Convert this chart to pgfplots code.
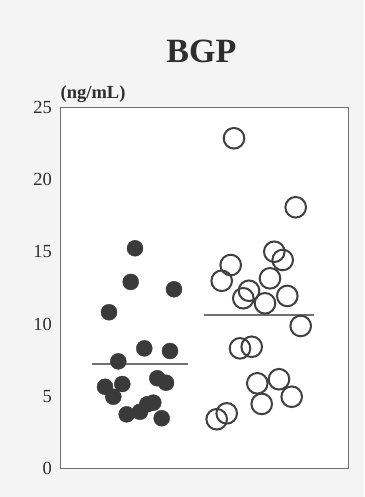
\documentclass[border=0pt]{standalone}
\usepackage{fontspec}
\setmainfont{Liberation Serif}
\usepackage{pgfplots}
\pgfplotsset{compat=1.18}
\definecolor{dotfill}{HTML}{3A3A3A}
\definecolor{ringcol}{HTML}{404040}
\definecolor{axcol}{HTML}{707070}
\definecolor{txtcol}{HTML}{2E2E2E}
\definecolor{bgcol}{HTML}{F4F4F4}
\begin{document}
\begin{tikzpicture}
\path[use as bounding box, fill=bgcol] (-60.5pt,-28.5pt) rectangle (303.5pt,468.5pt);
\begin{axis}[
  scale only axis,
  width=287.5pt, height=361pt,
  xmin=60.5, xmax=348, ymin=0, ymax=25,
  xtick=\empty,
  ytick={0,5,10,15,20,25},
  major tick length=0pt,
  axis line style={axcol, line width=1pt},
  axis background/.style={fill=white},
  /pgf/number format/assume math mode=true,
  yticklabel style={font=\fontsize{18.5}{18.5}\selectfont, text=txtcol, xshift=-5pt},
  clip=false,
]
\addplot[only marks, mark=*, mark size=8pt, mark options={fill=dotfill, draw=dotfill, line width=0.4pt}]
coordinates {
(135,15.25) (130.7,12.92) (174,12.41) (109,10.82) (144.3,8.32) (170,8.14)
(118.3,7.42) (105,5.66) (122.3,5.85) (113.3,4.97) (157.3,6.25) (166,5.94)
(126.7,3.75) (140,3.93) (147.3,4.45) (153.3,4.56) (161.7,3.48)
};
\addplot[only marks, mark=o, mark size=10.3pt, mark options={draw=ringcol, line width=2pt}]
coordinates {
(234,22.87) (295.7,18.09) (274.3,15.01) (282.7,14.44) (230.7,14.09) (221.7,13.0)
(270,13.17) (249,12.31) (243.3,11.79) (287.3,11.95) (265,11.44) (300.7,9.87)
(240,8.32) (251.7,8.43) (257.3,5.9) (279,6.18) (261.7,4.47) (291.7,4.97)
(216.7,3.41) (226.7,3.82)
};
\addplot[axcol, line width=1.2pt] coordinates {(92,7.24) (188,7.24)};
\addplot[axcol, line width=1.2pt] coordinates {(204,10.63) (314,10.63)};
\node[anchor=base, inner sep=0pt, yshift=44.5pt, font=\fontsize{34}{34}\selectfont\bfseries, text=txtcol] at (rel axis cs:0.49,1) {BGP};
\node[anchor=base west, inner sep=0pt, yshift=8.5pt, font=\fontsize{18.5}{18.5}\selectfont\bfseries, text=txtcol] at (rel axis cs:0,1) {(ng/mL)};
\end{axis}
\end{tikzpicture}
\end{document}
